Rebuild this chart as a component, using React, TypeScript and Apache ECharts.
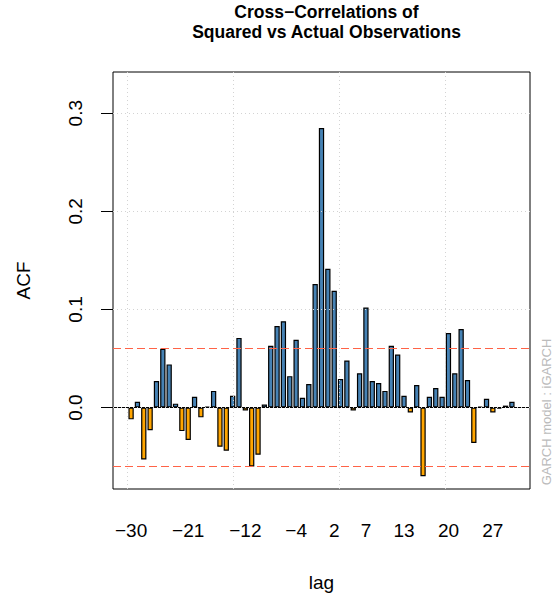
import React, { useEffect, useRef } from "react";
import * as echarts from "echarts";

// lags -30 .. 30
const lags: number[] = [
  -30, -29, -28, -27, -26, -25, -24, -23, -22, -21, -20, -19, -18, -17, -16, -15,
  -14, -13, -12, -11, -10, -9, -8, -7, -6, -5, -4, -3, -2, -1, 0, 1, 2, 3, 4, 5,
  6, 7, 8, 9, 10, 11, 12, 13, 14, 15, 16, 17, 18, 19, 20, 21, 22, 23, 24, 25, 26,
  27, 28, 29, 30,
];
const acfValues: number[] = [
  -0.012, 0.006, -0.053, -0.023, 0.027, 0.06, 0.044, 0.004, -0.024, -0.033, 0.011,
  -0.01, 0.001, 0.017, -0.04, -0.044, 0.012, 0.071, -0.003, -0.06, -0.048, 0.003,
  0.063, 0.083, 0.088, 0.032, 0.069, 0.01, 0.024, 0.126, 0.285, 0.1415, 0.119,
  0.029, 0.048, -0.003, 0.035, 0.102, 0.027, 0.025, 0.017, 0.063, 0.054, 0.012,
  -0.005, 0.023, -0.07, 0.011, 0.02, 0.011, 0.076, 0.035, 0.08, 0.028, -0.036,
  0.001, 0.009, -0.005, -0.001, 0.002, 0.006,
];
const xTickLabels: number[] = [-30, -21, -12, -4, 2, 7, 13, 20, 27];
const yTickLabels: number[] = [0, 0.1, 0.2, 0.3];
const confBand: number[] = [0.057, -0.057];
// R barplot coordinates of the vertical grid lines (grid() on barplot axis)
const gridBarCoords: number[] = [0, 20, 40, 60];
const yGridValues: number[] = [0, 0.1, 0.2, 0.3];

const X_MIN = -32.85;
const X_MAX = 32.85;
const Y_MIN = -0.083;
const Y_MAX = 0.342;

// R barplot: bar i centred at 0.7 + 1.2*i (i = 0 for lag -30)
const barCoordToLag = (b: number) => (b - 0.7) / 1.2 - 30;

const FONT = "'Liberation Sans', Arial, Helvetica, sans-serif";

export default function App() {
  const ref = useRef<HTMLDivElement>(null);
  useEffect(() => {
    if (!ref.current) return;
    const chart = echarts.init(ref.current, undefined, { renderer: "svg" });
    const barData = lags.map((l, i) => ({
      value: [l, acfValues[i]],
      itemStyle: { color: acfValues[i] >= 0 ? "#4682B4" : "#FFA500" },
    }));
    const gridStyle = { color: "#D3D3D3", type: [1, 3] as any, width: 1 };
    const markData: any[] = [
      ...gridBarCoords.map((b) => ({ xAxis: barCoordToLag(b), lineStyle: gridStyle })),
      { yAxis: 0, lineStyle: { color: "#000", type: "solid", width: 1 } },
      ...yGridValues.map((v) => ({ yAxis: v, lineStyle: gridStyle })),
      ...confBand.map((v) => ({
        yAxis: v,
        lineStyle: { color: "#FF6347", type: [8, 4] as any, width: 1 },
      })),
    ];
    chart.setOption({
      animation: false,
      backgroundColor: "#fff",
      title: {
        text: "Cross\u2212Correlations of\nSquared vs Actual Observations",
        left: 321.5,
        top: -3,
        textAlign: "center",
        textStyle: {
          fontFamily: FONT,
          fontSize: 17.5,
          fontWeight: "bold",
          lineHeight: 20,
          color: "#000",
        },
      },
      grid: {
        left: 113,
        right: 27,
        top: 72,
        bottom: 110,
        show: true,
        borderColor: "#000",
        borderWidth: 1,
        backgroundColor: "transparent",
      },
      xAxis: {
        type: "value",
        min: X_MIN,
        max: X_MAX,
        name: "lag",
        nameLocation: "middle",
        nameGap: 84,
        nameTextStyle: { fontFamily: FONT, fontSize: 19, color: "#000" },
        axisLine: { show: false, onZero: false },
        axisTick: { show: false },
        splitLine: { show: false },
        axisLabel: {
          customValues: xTickLabels,
          formatter: (v: number) => (v < 0 ? "\u2212" + Math.abs(v) : String(v)),
          fontFamily: FONT,
          fontSize: 19,
          color: "#000",
          margin: 32,
        },
      },
      yAxis: {
        type: "value",
        min: Y_MIN,
        max: Y_MAX,
        name: "ACF",
        nameLocation: "middle",
        nameRotate: 90,
        nameGap: 80,
        nameTextStyle: { fontFamily: FONT, fontSize: 19, color: "#000" },
        axisLine: { show: false, onZero: false },
        axisTick: {
          show: true,
          customValues: yTickLabels,
          length: 12,
          lineStyle: { color: "#000", width: 1 },
        },
        splitLine: { show: false },
        axisLabel: {
          customValues: yTickLabels,
          formatter: (v: number) => v.toFixed(1),
          rotate: 90,
          fontFamily: FONT,
          fontSize: 19,
          color: "#000",
          margin: 28,
        },
      },
      graphic: [
        {
          type: "text",
          x: 546,
          y: 412,
          rotation: Math.PI / 2,
          style: {
            text: "GARCH model : iGARCH",
            fontFamily: FONT,
            fontSize: 13,
            fill: "#BBBBBB",
            align: "center",
            verticalAlign: "middle",
          },
        },
      ],
      series: [
        {
          type: "bar",
          data: barData,
          barWidth: 5.3,
          itemStyle: { borderColor: "#000", borderWidth: 1.2 },
          markLine: {
            silent: true,
            symbol: "none",
            label: { show: false },
            data: markData,
          },
        },
      ],
    });
    return () => chart.dispose();
  }, []);
  return (
    <div
      ref={ref}
      style={{ position: "fixed", left: 0, top: 0, width: 557, height: 599 }}
    />
  );
}
